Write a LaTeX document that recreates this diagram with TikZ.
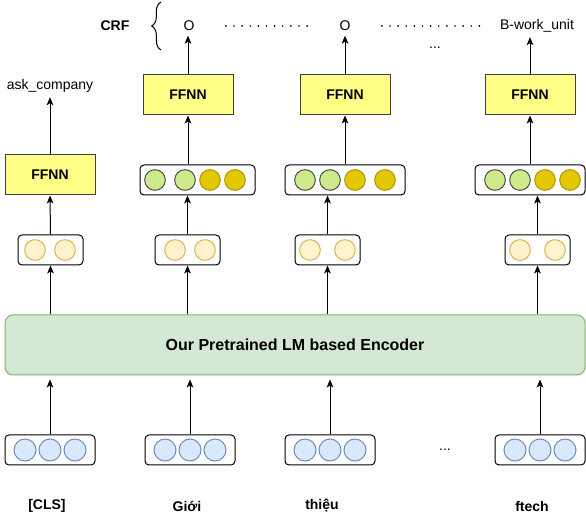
\documentclass[tikz,border=0pt]{standalone}
\usepackage{fontspec}
\setmainfont{Liberation Sans}
\usepackage{tikz}
\usetikzlibrary{positioning, arrows.meta, decorations.pathreplacing}

\definecolor{ffnnfill}{HTML}{FFFF88}
\definecolor{encfill}{HTML}{D5E8D4}
\definecolor{encline}{HTML}{82B366}
\definecolor{greenfill}{HTML}{CDEB8B}
\definecolor{goldfill}{HTML}{E3C800}
\definecolor{goldline}{HTML}{B09500}
\definecolor{peachfill}{HTML}{FFF2CC}
\definecolor{peachline}{HTML}{D6B656}
\definecolor{bluefill}{HTML}{DAE8FC}
\definecolor{blueline}{HTML}{6C8EBF}

\begin{document}
\begin{tikzpicture}[
        x=0.75pt, y=-0.75pt,
        every node/.style={font=\fontsize{10.5}{12}\selectfont},
        ffnn/.style={rectangle, draw=black!75, line width=0.75pt, fill=ffnnfill, minimum width=67.5pt, minimum height=30pt, font=\fontsize{10.5}{12}\selectfont\bfseries},
        vecbox/.style={rectangle, draw, line width=0.75pt, rounded corners=3pt, minimum height=22.5pt},
        cell/.style={circle, draw, line width=0.75pt, minimum size=15.5pt, inner sep=0pt},
        word/.style={font=\fontsize{10.5}{12}\selectfont\bfseries},
        arrow/.style={-{Stealth[length=6pt, width=5pt, inset=1.5pt]}, line width=0.75pt},
        dotrow/.style={line width=1.4pt, line cap=round, dash pattern=on 0pt off 6.1pt}
    ]
    \useasboundingbox (0,0) rectangle (586,516);
%
    % CRF output row
    \node[word] (crf) at (115,26) {CRF};
    \draw[line width=0.75pt, decorate, decoration={brace, amplitude=7pt}] (161,50) -- (161,2);
    \node (o1) at (189,26) {O};
    \node (o2) at (345,26) {O};
    \node (bw) at (537,26) {B-work\_unit};
    \node (dtop) at (435,48) {...};
    \draw[dotrow] ([xshift=20pt]o1.east) -- ([xshift=-19pt]o2.west);
    \draw[dotrow] ([xshift=20pt]o2.east) -- ([xshift=-7pt]bw.west);
    \node (ask) at (50,86) {ask\_company};
%
    % FFNN heads
    \node[ffnn] (ffl) at (50,175) {FFNN};
    \node[ffnn] (f2) at (188,95) {FFNN};
    \node[ffnn] (f3) at (345,95) {FFNN};
    \node[ffnn] (f4) at (530,95) {FFNN};
%
    % concatenated vectors
    \node[vecbox, minimum width=86.25pt] (v2) at (197.5,180) {};
    \node[vecbox, minimum width=90pt] (v3) at (345,180) {};
    \node[vecbox, minimum width=82.5pt] (v4) at (530,180) {};
    \foreach \x in {155, 185, 305, 330, 495, 520}
        \node[cell, fill=greenfill, draw=black!70] (g\x) at (\x,180) {};
    \foreach \x in {210, 235, 355, 385, 545, 570}
        \node[cell, fill=goldfill, draw=goldline] (y\x) at (\x,180) {};
%
    % encoder outputs
    \node[vecbox, minimum width=48.75pt] (s1) at (50.5,250) {};
    \node[vecbox, minimum width=48.75pt] (s2) at (187.5,250) {};
    \node[vecbox, minimum width=48.75pt] (s3) at (327.5,250) {};
    \node[vecbox, minimum width=48.75pt] (s4) at (537.5,250) {};
    \foreach \x in {35, 65, 175, 205, 310, 345, 520, 555}
        \node[cell, fill=peachfill, draw=peachline] (p\x) at (\x,250) {};
%
    % encoder
    \node[rectangle, draw=encline, line width=0.75pt, fill=encfill, rounded corners=6pt, minimum width=435pt, minimum height=45pt, font=\fontsize{12}{14}\selectfont\bfseries] (enc) at (295,345) {Our Pretrained LM based Encoder};
%
    % input embeddings
    \node[vecbox, minimum width=67.5pt] (in1) at (50,450) {};
    \node[vecbox, minimum width=67.5pt] (in2) at (190,450) {};
    \node[vecbox, minimum width=67.5pt] (in3) at (330,450) {};
    \node[vecbox, minimum width=67.5pt] (in4) at (540,450) {};
    \foreach \x in {25, 50, 75, 165, 190, 215, 305, 330, 355, 515, 540, 565}
        \node[cell, minimum size=16.5pt, fill=bluefill, draw=blueline] (b\x) at (\x,450) {};
    \node (dbot) at (445,450) {...};
%
    % tokens
    \node[word] (t1) at (47,506) {[CLS]};
    \node[word] (t2) at (187,506) {Giới};
    \node[word] (t3) at (322,506) {thiệu};
    \node[word] (t4) at (532,506) {ftech};
%
    % connectors
    \foreach \i in {1,2,3,4} {
        \draw[arrow, shorten >=3pt] (in\i.north) -- (in\i.north |- enc.south);
        \draw[arrow] (enc.north -| s\i.south) -- (s\i.south);
    }
    \draw[arrow] (s1.north) -- (ffl.south);
    \draw[arrow] (ffl.north) -- (ask.south);
    \draw[arrow] (s2.north) -- (s2.north |- v2.south);
    \draw[arrow] (s3.north) -- (s3.north |- v3.south);
    \draw[arrow] (s4.north) -- (s4.north |- v4.south);
    \draw[arrow] (f2.south |- v2.north) -- (f2.south);
    \draw[arrow] (f3.south |- v3.north) -- (f3.south);
    \draw[arrow] (f4.south |- v4.north) -- (f4.south);
    \draw[arrow] (f2.north) -- (f2.north |- o1.south);
    \draw[arrow] (f3.north) -- (o2.south);
    \draw[arrow] (f4.north) -- (f4.north |- bw.south);
%
\end{tikzpicture}
\end{document}
